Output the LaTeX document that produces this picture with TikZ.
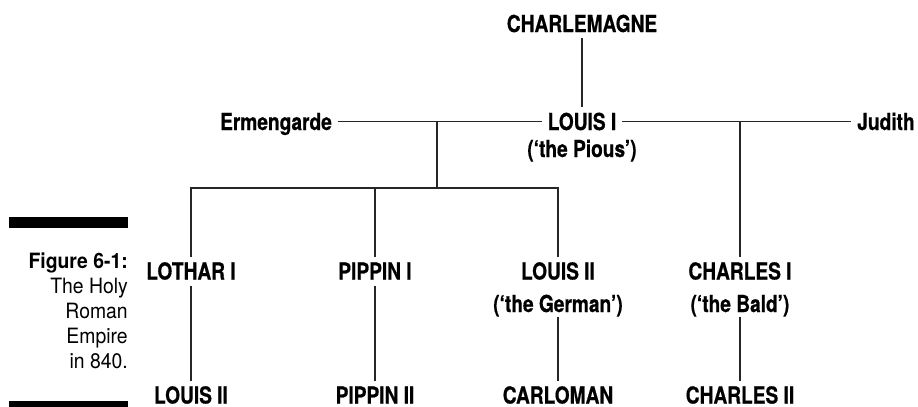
\documentclass[tikz,border=0pt]{standalone}
\usepackage{fontspec}
\setmainfont{TeX Gyre Heros}[FakeStretch=0.82, BoldFeatures={FakeBold=0.6}]
\newfontfamily\capfont{TeX Gyre Heros}[FakeStretch=0.92]
\usepackage{tikz}
\usetikzlibrary{positioning,calc}
\tikzset{
  person/.style={font=\fontsize{17.5}{20.25}\selectfont\bfseries, inner sep=0pt, outer sep=4.5pt, text height=12.75pt, text depth=0pt},
  epithet/.style={font=\fontsize{17.5}{20.25}\selectfont\bfseries, inner sep=0pt, outer sep=0pt, anchor=base},
  link/.style={line width=0.8pt, black!85},
  caption/.style={font=\capfont\fontsize{15.8}{18.75}\selectfont, align=right, inner sep=0pt, anchor=north east},
}

\begin{document}
\begin{tikzpicture}[x=0.75pt, y=-0.75pt]
\useasboundingbox (0,0) rectangle (918,407);

% caption
\fill (9,217) rectangle (128,228);
\fill (9,401) rectangle (128,407);
\node[caption] (cap) at (128,253) {\textbf{Figure 6-1:}\\The Holy\\Roman\\Empire\\in 840.};

% first generations
\node[person] (charlemagne) at (582,23.5) {CHARLEMAGNE};
\node[person] (louisI) at (582,121.5) {LOUIS I};
\node[epithet] (pious) at (582,157) {(‘the Pious’)};
\node[person] (ermengarde) at (276,121.5) {Ermengarde};
\node[person] (judith) at (886,121.5) {Judith};
\coordinate (wedE) at (437,121.5);
\coordinate (wedJ) at (740,121.5);
\coordinate (bar) at (437,188);

% sons
\node[person] (lothar) at (191,271) {LOTHAR I};
\node[person] (pippin) at (375,271) {PIPPIN I};
\node[person] (louisII) at (558,271) {LOUIS II};
\node[epithet] (german) at (558,312) {(‘the German’)};
\node[person] (charlesI) at (740,271) {CHARLES I};
\node[epithet] (bald) at (740,312) {(‘the Bald’)};

% grandsons
\node[person] (louisIIb) at (191,395) {LOUIS II};
\node[person] (pippinII) at (375,395) {PIPPIN II};
\node[person] (carloman) at (558,395) {CARLOMAN};
\node[person] (charlesII) at (740,395) {CHARLES II};

% lines
\draw[link] (charlemagne) -- (louisI);
\draw[link] (ermengarde) -- (louisI);
\draw[link] (louisI) -- (judith);
\draw[link] (wedE) -- (bar);
\draw[link] (lothar) |- (bar) -| (louisII);
\draw[link] (pippin) -- (pippin |- bar);
\draw[link] (wedJ) -- (charlesI);
\draw[link] (lothar) -- (louisIIb);
\draw[link] (pippin) -- (pippinII);
\draw[link] (german) -- (carloman);
\draw[link] (bald) -- (charlesII);
\end{tikzpicture}
\end{document}
